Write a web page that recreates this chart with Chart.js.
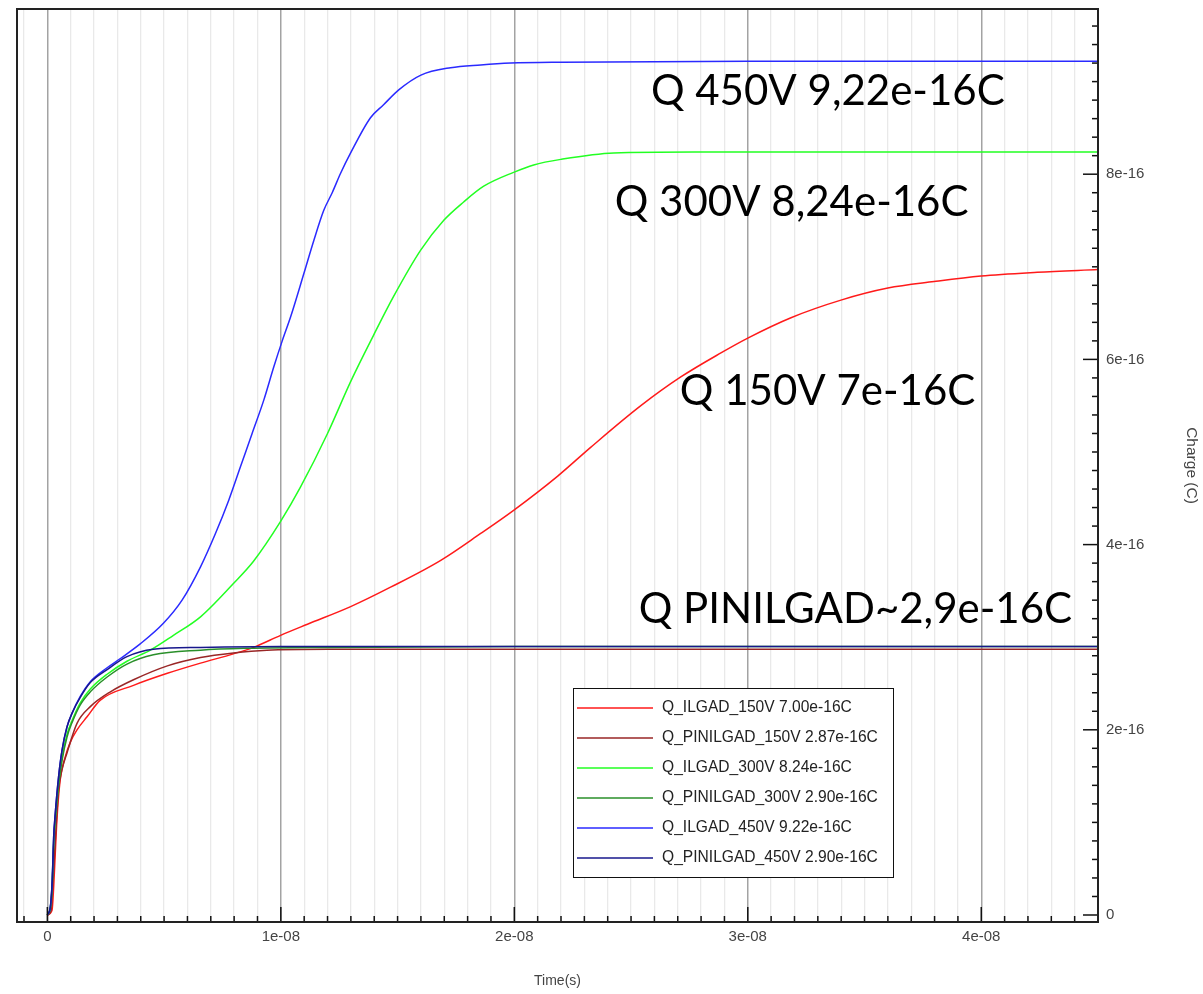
<!DOCTYPE html>
<html><head><meta charset="utf-8">
<script src="https://cdn.jsdelivr.net/npm/chart.js@4.4.1/dist/chart.umd.min.js"></script>
<style>html,body{margin:0;padding:0;background:#fff;}canvas{display:block;}</style>
</head><body>
<canvas id="c" width="1203" height="994"></canvas>
<script>
// ---- data (time in ns, charge in 1e-16 C) ----
const seriesLabels = [
  'Q_ILGAD_150V 7.00e-16C',
  'Q_PINILGAD_150V 2.87e-16C',
  'Q_ILGAD_300V 8.24e-16C',
  'Q_PINILGAD_300V 2.90e-16C',
  'Q_ILGAD_450V 9.22e-16C',
  'Q_PINILGAD_450V 2.90e-16C'
];
const t_ILGAD_150V = [0,0.2,0.27,0.34,0.41,0.55,0.77,0.99,1.27,1.70,2.27,3.69,5.14,6.56,7.97,8.83,9.99,11.14,12.99,14.70,16.85,18.56,19.97,21.86,23.27,25.42,27.13,28.85,30.0,31.85,33.99,36.0,37.98,39.99,42.4,45];
const q_ILGAD_150V = [0,0.05,0.30,0.67,1.03,1.46,1.71,1.87,2.00,2.14,2.32,2.48,2.61,2.72,2.82,2.89,3.02,3.14,3.33,3.54,3.83,4.12,4.37,4.74,5.05,5.50,5.81,6.07,6.23,6.45,6.64,6.77,6.84,6.90,6.94,6.97];
const t_PINILGAD_150V = [0,0.16,0.24,0.34,0.48,0.63,0.84,1.27,1.84,2.7,3.69,5.14,6.56,7.97,9.4,12,45];
const q_PINILGAD_150V = [0,0.05,0.35,0.80,1.35,1.57,1.75,2.07,2.25,2.41,2.54,2.69,2.78,2.83,2.86,2.87,2.87];
const t_ILGAD_300V = [0,0.13,0.21,0.27,0.34,0.48,0.63,0.84,1.06,1.41,1.84,2.56,3.41,4.41,5.40,6.56,7.97,8.83,9.99,10.84,12.0,12.99,13.97,14.83,15.99,16.97,17.83,18.69,19.97,20.83,21.99,24.26,27.7,45];
const q_ILGAD_300V = [0,0.08,0.35,0.80,1.05,1.42,1.70,1.95,2.10,2.29,2.44,2.60,2.74,2.86,3.02,3.22,3.58,3.82,4.25,4.62,5.20,5.76,6.26,6.68,7.18,7.50,7.70,7.87,8.02,8.10,8.16,8.23,8.24,8.24];
const t_PINILGAD_300V = [0,0.13,0.21,0.27,0.34,0.48,0.63,0.84,1.06,1.41,1.84,2.56,3.41,4.54,6.56,8.6,12,20,45];
const q_PINILGAD_300V = [0,0.08,0.33,0.75,1.03,1.40,1.67,1.92,2.08,2.27,2.41,2.57,2.71,2.81,2.86,2.88,2.89,2.90,2.90];
const t_ILGAD_450V = [0,0.13,0.21,0.27,0.34,0.48,0.63,0.84,1.06,1.41,1.84,2.56,3.13,3.99,4.97,5.77,6.56,7.20,7.77,8.27,8.77,9.27,9.70,10.06,10.42,10.99,11.42,11.84,12.2,12.56,12.99,13.84,14.40,15.05,16.0,17.27,18.56,19.85,22,30,45];
const q_ILGAD_450V = [0,0.09,0.38,0.84,1.10,1.49,1.78,2.03,2.18,2.36,2.52,2.67,2.77,2.93,3.15,3.40,3.76,4.12,4.48,4.84,5.20,5.56,5.92,6.20,6.46,6.93,7.29,7.61,7.80,8.01,8.23,8.61,8.75,8.91,9.07,9.15,9.18,9.20,9.21,9.22,9.22];
const t_PINILGAD_450V = [0,0.13,0.21,0.27,0.34,0.48,0.63,0.84,1.06,1.41,1.84,2.56,3.41,4.54,6.56,10,20,45];
const q_PINILGAD_450V = [0,0.09,0.38,0.84,1.10,1.49,1.78,2.03,2.18,2.35,2.51,2.65,2.79,2.87,2.89,2.90,2.90,2.90];

const xTickValues = [0,1e-8,2e-8,3e-8,4e-8];
const xTickLabels = ['0','1e-08','2e-08','3e-08','4e-08'];
const yTickValues = [0,2e-16,4e-16,6e-16,8e-16];
const yTickLabels = ['0','2e-16','4e-16','6e-16','8e-16'];

const annotationTexts = ['Q 450V 9,22e-16C','Q 300V 8,24e-16C','Q 150V 7e-16C','Q PINILGAD~2,9e-16C'];
const annotationT = [25.85,24.30,27.09,25.33];   // ns, left edge of text
const annotationQ = [8.75,7.55,5.51,3.15];       // 1e-16 C, text baseline

// ---- styles ----
const seriesColors = ['#ff1a1a','#992626','#22ff22','#2a8f2a','#2a2aff','#17178c'];
const seriesOrder = [5,4,3,2,1,0];
const NS = 1e-9, QU = 1e-16;

const tData = [t_ILGAD_150V,t_PINILGAD_150V,t_ILGAD_300V,t_PINILGAD_300V,t_ILGAD_450V,t_PINILGAD_450V];
const qData = [q_ILGAD_150V,q_PINILGAD_150V,q_ILGAD_300V,q_PINILGAD_300V,q_ILGAD_450V,q_PINILGAD_450V];

function labelFor(v, vals, labs, tol){
  for (let i=0;i<vals.length;i++) if (Math.abs(v-vals[i])<tol) return labs[i];
  return '';
}

const datasets = seriesLabels.map((lab,i)=>({
  label: lab,
  data: tData[i].map((t,k)=>({x:t*NS, y:qData[i][k]*QU})),
  borderColor: seriesColors[i],
  borderWidth: 1.5,
  pointRadius: 0,
  fill: false,
  cubicInterpolationMode: 'monotone',
  order: seriesOrder[i]
}));

const decor = {
  id:'decor',
  afterDraw(chart){
    const {ctx, chartArea:a, scales:{x,y}} = chart;
    ctx.save();
    // inward tick marks
    ctx.strokeStyle = '#111'; ctx.lineWidth = 1.5;
    x.ticks.forEach(t=>{
      const px = x.getPixelForValue(t.value);
      const major = labelFor(t.value,xTickValues,xTickLabels,1e-12)!=='';
      ctx.beginPath(); ctx.moveTo(px,a.bottom); ctx.lineTo(px,a.bottom-(major?15:6)); ctx.stroke();
    });
    y.ticks.forEach(t=>{
      const py = y.getPixelForValue(t.value);
      const major = labelFor(t.value,yTickValues,yTickLabels,1e-20)!=='';
      ctx.beginPath(); ctx.moveTo(a.right,py); ctx.lineTo(a.right-(major?15:6),py); ctx.stroke();
    });
    // frame
    ctx.strokeStyle = '#222'; ctx.lineWidth = 2;
    ctx.strokeRect(a.left, a.top, a.right-a.left, a.bottom-a.top);
    // annotations
    ctx.fillStyle = '#000';
    ctx.font = '42px Lato';
    ctx.textBaseline = 'alphabetic'; ctx.textAlign = 'left';
    annotationTexts.forEach((s,i)=>{
      ctx.fillText(s, x.getPixelForValue(annotationT[i]*NS), y.getPixelForValue(annotationQ[i]*QU));
    });
    // legend box
    const L = {x:573.5, y:688.5, w:320, h:189, row0:708, dy:30};
    ctx.fillStyle = '#fff'; ctx.fillRect(L.x, L.y, L.w, L.h);
    ctx.strokeStyle = '#111'; ctx.lineWidth = 1; ctx.strokeRect(L.x, L.y, L.w, L.h);
    ctx.font = '15.6px "Liberation Sans"'; ctx.textBaseline = 'middle';
    chart.data.datasets.forEach((ds,i)=>{
      const yy = L.row0 + i*L.dy;
      ctx.strokeStyle = ds.borderColor; ctx.lineWidth = 1.5;
      ctx.beginPath(); ctx.moveTo(577, yy); ctx.lineTo(653, yy); ctx.stroke();
      ctx.fillStyle = '#222'; ctx.fillText(ds.label, 662, yy);
    });
    ctx.restore();
  }
};

Chart.defaults.font.family = '"Liberation Sans", Arial, sans-serif';
new Chart(document.getElementById('c'), {
  type: 'line',
  data: { datasets },
  options: {
    responsive: false,
    animation: false,
    devicePixelRatio: 1,
    layout: { padding: { left: 17, top: 9, right: 0, bottom: 0 } },
    plugins: { legend: { display: false }, tooltip: { enabled: false } },
    scales: {
      x: {
        type: 'linear', position: 'bottom',
        min: -1.3e-9, max: 4.5e-8,
        afterFit(s){ s.height = 72; s.paddingLeft = 0; s.paddingRight = 0; },
        grid: {
          drawTicks: false,
          color: c => labelFor(c.tick.value,xTickValues,xTickLabels,1e-12)!=='' ? '#a3a3a3' : '#e9e9e9',
          lineWidth: c => labelFor(c.tick.value,xTickValues,xTickLabels,1e-12)!=='' ? 1.5 : 1.3
        },
        border: { display: true, color: '#222', width: 2 },
        ticks: {
          stepSize: 1e-9, maxTicksLimit: 1000, autoSkip: false, maxRotation: 0, includeBounds: false,
          padding: 6, color: '#444', font: { size: 15 },
          callback: v => labelFor(v,xTickValues,xTickLabels,1e-12)
        },
        title: { display: true, text: 'Time(s)', color: '#444', font: { size: 14 }, padding: { top: 0, bottom: 4 } }
      },
      y: {
        type: 'linear', position: 'right',
        min: -0.0756e-16, max: 9.784e-16,
        afterFit(s){ s.width = 105; s.paddingTop = 0; s.paddingBottom = 0; },
        grid: { display: false, drawTicks: false },
        border: { display: true, color: '#222', width: 2 },
        ticks: {
          stepSize: 0.2e-16, maxTicksLimit: 1000, autoSkip: false, includeBounds: false,
          padding: 8, color: '#444', font: { size: 15 },
          callback: v => labelFor(v,yTickValues,yTickLabels,1e-20)
        },
        title: { display: true, text: 'Charge (C)', color: '#444', font: { size: 15.5 }, padding: { top: 2, bottom: 0 } }
      }
    }
  },
  plugins: [decor]
});
</script>
</body></html>
